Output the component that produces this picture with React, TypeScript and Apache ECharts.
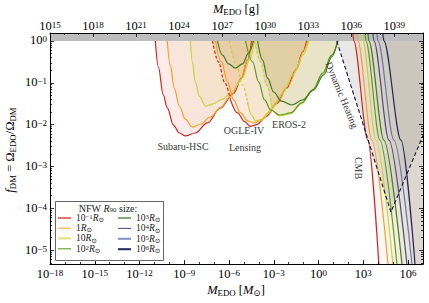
import React, { useEffect, useRef } from 'react';
import * as echarts from 'echarts';

const FONT = "'Liberation Serif','DejaVu Serif',serif";

// ---- axis ranges (log10 units) ----
const xRangeMsun = [-18, 7];
const xRangeGram = [15, 41];
const yRange = [-5.33, 0.19];

// ---- tick values (log10 units) ----
const xMajorTicks = [-18, -15, -12, -9, -6, -3, 0, 3, 6];
const xMinorTicks = [-18, -17, -16, -15, -14, -13, -12, -11, -10, -9, -8, -7, -6, -5, -4, -3, -2, -1, 0, 1, 2, 3, 4, 5, 6, 7];
const gramMajorTicks = [15, 18, 21, 24, 27, 30, 33, 36, 39];
const gramMinorTicks = [15, 16, 17, 18, 19, 20, 21, 22, 23, 24, 25, 26, 27, 28, 29, 30, 31, 32, 33, 34, 35, 36, 37, 38, 39, 40, 41];
const yMajorTicks = [-5, -4, -3, -2, -1, 0];
const minorMultipliers = [2, 3, 4, 5, 6, 7, 8, 9];

// ---- NFW R90 sizes (log10 of R/Rsun) ----
const radiusExp = [-1, 0, 1, 2, 3, 4, 5, 6];
const radiusNames = ['R-1', 'R0', 'R1', 'R2', 'R3', 'R4', 'R5', 'R6'];
const lineColors = ['#d0271d', '#f5a01f', '#c6d23a', '#5b9c1f', '#3f7a25', '#4b4b86', '#7070ae', '#25255e'];
const legendColors = ['#e0766e', '#ffa21a', '#dce57f', '#4f9a1f', '#86a877', '#4e4e84', '#9090c6', '#2b2b66'];
const legendThick = [true, false, true, false, true, false, true, true];

// ---- constraint curves: [log10 M/Msun, log10 f_DM] ----
const subaruR01 = [[-10.94, 0], [-10.74, -0.62], [-10.41, -1.29], [-10.14, -1.6], [-9.73, -2.01], [-9.33, -2.2], [-8.93, -2.27], [-8.26, -2.2], [-7.45, -1.96], [-6.58, -1.6], [-5.7, -1.25], [-5.16, -0.89], [-4.76, -0.46], [-4.49, 0]];
const subaruR1 = [[-10.14, 0], [-9.94, -0.58], [-9.67, -1.13], [-9.33, -1.56], [-8.93, -1.87], [-8.46, -2.06], [-7.92, -1.99], [-7.25, -1.82], [-6.58, -1.6], [-5.9, -1.32], [-5.23, -0.93], [-4.76, -0.46], [-4.42, 0]];
const subaruR10 = [[-8.59, 0], [-8.46, -0.5], [-8.26, -0.98], [-7.99, -1.32], [-7.58, -1.56], [-7.11, -1.51], [-6.44, -1.39], [-5.77, -1.2], [-5.1, -0.89], [-4.63, -0.46], [-4.29, 0]];

const ogleR01Dash = [[-7.11, 0], [-6.71, -0.5], [-6.31, -0.98], [-5.9, -1.41]];
const ogleR01 = [[-5.9, -1.41], [-5.43, -1.72], [-4.96, -1.93], [-4.56, -2.04], [-4.15, -2.0], [-3.48, -1.8], [-2.81, -1.5], [-2.14, -1.13], [-1.53, -0.7], [-1.06, -0.26], [-0.8, 0]];
const ogleR1 = [[-6.91, 0], [-6.51, -0.5], [-6.1, -0.98], [-5.7, -1.41], [-5.23, -1.72], [-4.76, -1.91], [-4.36, -1.96], [-3.89, -1.91], [-3.35, -1.72], [-2.68, -1.41], [-2.01, -1.05], [-1.4, -0.62], [-1.0, -0.22], [-0.73, 0]];
const ogleR10Dash = [[-5.97, 0], [-5.5, -0.58], [-5.1, -1.05], [-4.76, -1.46]];
const ogleR10 = [[-4.76, -1.46], [-4.49, -1.77], [-4.22, -1.91], [-3.75, -1.87], [-3.08, -1.6], [-2.41, -1.25], [-1.67, -0.79], [-1.06, -0.34], [-0.66, 0]];
const ogleR100 = [[-6.78, 0], [-6.44, -0.34], [-6.04, -0.55], [-5.57, -0.65], [-5.1, -0.55], [-4.69, -0.29], [-4.36, 0]];

const erosR10Dash = [[-4.29, 0], [-3.89, -0.5], [-3.48, -1.05], [-3.08, -1.65]];
const erosR10 = [[-3.08, -1.65], [-2.61, -1.79], [-1.87, -1.74], [-1.13, -1.5], [-0.39, -1.18], [0.28, -0.78], [0.88, -0.35], [1.29, 0]];
const erosR100 = [[-4.9, 0], [-4.42, -0.5], [-4.02, -0.98], [-3.62, -1.41], [-3.21, -1.65], [-2.61, -1.77], [-1.87, -1.72], [-1.13, -1.48], [-0.39, -1.17], [0.28, -0.77], [0.88, -0.34], [1.29, 0]];
const erosR1000 = [[-4.09, 0], [-3.75, -0.46], [-3.42, -0.89], [-3.01, -1.22], [-2.48, -1.44], [-1.8, -1.53], [-1.06, -1.41], [-0.33, -1.17], [0.35, -0.81], [0.88, -0.38], [1.29, 0]];

const cmbR01 = [[2.3, 0.19], [2.36, 0], [3.3, -2.37], [4.05, -5.4]];
const cmbR1 = [[2.57, 0.19], [2.63, 0], [3.57, -2.37], [4.67, -5.4]];
const cmbR10 = [[2.91, 0.19], [2.97, 0], [3.84, -2.37], [5.0, -5.4]];
const cmbR100 = [[3.11, 0.19], [3.17, 0], [4.11, -2.37], [5.27, -5.4]];
const cmbR1000 = [[3.31, 0.19], [3.37, 0], [4.38, -2.37], [5.61, -5.4]];
const cmbR1e4 = [[3.64, 0.19], [3.71, 0], [4.72, -2.37], [5.94, -5.4]];
const cmbR1e5 = [[3.91, 0.19], [3.98, 0], [5.05, -2.37], [6.28, -5.4]];
const cmbR1e6 = [[4.3, 0.19], [4.38, 0], [5.52, -2.37], [6.48, -5.4]];
const cmbCurves = [cmbR01, cmbR1, cmbR10, cmbR100, cmbR1000, cmbR1e4, cmbR1e5, cmbR1e6];

const dynamicHeating = [[1.22, 0], [4.85, -4.09], [7.0, -2.26]];
const unphysicalBand = [[-18, 0], [7, 0]];

// ---- helpers ----
const expText = (v: number) => (v < 0 ? '\u2212' + Math.abs(v) : String(v));

function rgba(hex: string, a: number) {
  const n = parseInt(hex.slice(1), 16);
  return `rgba(${(n >> 16) & 255},${(n >> 8) & 255},${n & 255},${a})`;
}

const tickRich = {
  b: { fontFamily: FONT, fontSize: 12.5, lineHeight: 12, verticalAlign: 'bottom', color: '#000' },
  s: { fontFamily: FONT, fontSize: 9, lineHeight: 4, verticalAlign: 'top', color: '#000' },
};
const tickFmt = (v: number) => `{b|10}{s|${expText(Math.round(v))}}`;

function fillSeries(data: number[][], color: string, alpha: number, smooth: number | boolean = 0.35) {
  return {
    type: 'line', data, xAxisIndex: 0, yAxisIndex: 0, symbol: 'none', showSymbol: false,
    smooth, smoothMonotone: 'x', silent: true, clip: true, z: 1,
    lineStyle: { width: 0, opacity: 0 },
    areaStyle: { color: rgba(color, alpha), origin: 'end' },
  };
}
function lineSeries(data: number[][], color: string, dashed = false, name?: string, smooth: number | boolean = 0.35) {
  const s: any = {
    type: 'line', data, xAxisIndex: 0, yAxisIndex: 0, symbol: 'none', showSymbol: false,
    smooth, smoothMonotone: 'x', silent: true, clip: true, z: 3,
    lineStyle: { color, width: 1.2, type: dashed ? [3, 2] : 'solid' },
    itemStyle: { color },
  };
  if (name) s.name = name;
  return s;
}
const joinArm = (a: number[][], b: number[][]) => a.concat(b.slice(1));

function yMinorTicks() {
  const out: number[] = [];
  for (let n = -6; n <= 0; n++) {
    for (const k of minorMultipliers) {
      const v = n + Math.log10(k);
      if (v > yRange[0] && v < yRange[1]) out.push(v);
    }
  }
  return out;
}

function buildOption() {
  const axisBase = {
    type: 'value', z: 10, silent: true, splitLine: { show: false },
    axisLine: { show: true, onZero: false, lineStyle: { color: '#000', width: 1 } },
  };
  const tickStyle = { color: '#000', width: 0.8 };
  const labelBase = { show: true, color: '#000', formatter: tickFmt, rich: tickRich };
  const xAxis = [
    { ...axisBase, position: 'bottom', min: xRangeMsun[0], max: xRangeMsun[1],
      axisTick: { show: true, inside: true, length: 4, customValues: xMajorTicks, lineStyle: tickStyle },
      axisLabel: { ...labelBase, customValues: xMajorTicks, margin: 4 } },
    { ...axisBase, position: 'bottom', min: xRangeMsun[0], max: xRangeMsun[1], axisLine: { show: false, onZero: false },
      axisTick: { show: true, inside: true, length: 2, customValues: xMinorTicks, lineStyle: tickStyle }, axisLabel: { show: false } },
    { ...axisBase, position: 'top', min: xRangeGram[0], max: xRangeGram[1],
      axisTick: { show: true, inside: true, length: 4, customValues: gramMajorTicks, lineStyle: tickStyle },
      axisLabel: { ...labelBase, customValues: gramMajorTicks, margin: 1 } },
    { ...axisBase, position: 'top', min: xRangeGram[0], max: xRangeGram[1], axisLine: { show: false, onZero: false },
      axisTick: { show: true, inside: true, length: 2, customValues: gramMinorTicks, lineStyle: tickStyle }, axisLabel: { show: false } },
  ];
  const minorY = yMinorTicks();
  const yAxis = [
    { ...axisBase, position: 'left', min: yRange[0], max: yRange[1],
      axisTick: { show: true, inside: true, length: 4, customValues: yMajorTicks, lineStyle: tickStyle },
      axisLabel: { ...labelBase, customValues: yMajorTicks, margin: 3 } },
    { ...axisBase, position: 'left', min: yRange[0], max: yRange[1], axisLine: { show: false, onZero: false },
      axisTick: { show: true, inside: true, length: 2, customValues: minorY, lineStyle: tickStyle }, axisLabel: { show: false } },
    { ...axisBase, position: 'right', min: yRange[0], max: yRange[1],
      axisTick: { show: true, inside: true, length: 4, customValues: yMajorTicks, lineStyle: tickStyle }, axisLabel: { show: false } },
    { ...axisBase, position: 'right', min: yRange[0], max: yRange[1], axisLine: { show: false, onZero: false },
      axisTick: { show: true, inside: true, length: 2, customValues: minorY, lineStyle: tickStyle }, axisLabel: { show: false } },
  ];

  const [cR01, cR1, cR10, cR100, cR1000] = lineColors;
  const erosShallow = joinArm(erosR10Dash, erosR10);
  const series: any[] = [];
  // fills
  series.push(fillSeries(subaruR01, cR01, 0.13));
  series.push(fillSeries(subaruR1, cR1, 0.12));
  series.push(fillSeries(subaruR10, cR10, 0.12));
  series.push(fillSeries(joinArm(ogleR01Dash, ogleR01), cR01, 0.1));
  series.push(fillSeries(ogleR1, cR1, 0.12));
  series.push(fillSeries(joinArm(ogleR10Dash, ogleR10), cR10, 0.12));
  series.push(fillSeries(ogleR100, cR100, 0.08));
  series.push(fillSeries(erosShallow, cR01, 0.07));
  series.push(fillSeries(erosShallow, cR1, 0.1));
  series.push(fillSeries(erosShallow, cR10, 0.1));
  series.push(fillSeries(erosR100, cR100, 0.06));
  series.push(fillSeries(erosR1000, cR1000, 0.06));
  cmbCurves.forEach((c, i) => series.push(fillSeries(c.concat([[7.3, -5.4]]), lineColors[i], 0.05, false)));
  series.push({ ...fillSeries(dynamicHeating, '#78695a', 0.22, false) });
  // f > 1 band
  series.push({
    type: 'line', data: unphysicalBand, symbol: 'none', silent: true, z: 2,
    lineStyle: { width: 0, opacity: 0 }, areaStyle: { color: '#bdbdbd', opacity: 1, origin: 'end' },
  });
  // lines
  series.push(lineSeries(subaruR01, cR01));
  series.push(lineSeries(subaruR1, cR1));
  series.push(lineSeries(subaruR10, cR10));
  series.push(lineSeries(ogleR01Dash, cR01, true));
  series.push(lineSeries(ogleR01, cR01));
  series.push(lineSeries(ogleR1, cR1));
  series.push(lineSeries(ogleR10Dash, cR10, true));
  series.push(lineSeries(ogleR10, cR10));
  series.push(lineSeries(ogleR100, cR1000));
  series.push(lineSeries(erosR10Dash, cR10, true));
  series.push(lineSeries(erosR10, cR10));
  series.push(lineSeries(erosR100, cR100));
  series.push(lineSeries(erosR1000, cR1000));
  cmbCurves.forEach((c, i) => series.push(lineSeries(c, lineColors[i], false, radiusNames[i], 0.3)));
  series.push({ ...lineSeries(dynamicHeating, '#1c1c4a', true, undefined, false), lineStyle: { color: '#1c1c4a', width: 1.2, type: [4, 2.5] } });

  const legendRich = {
    b: { fontFamily: FONT, fontSize: 9.5, lineHeight: 10.4, color: '#222' },
    s: { fontFamily: FONT, fontSize: 6.8, lineHeight: 5, verticalAlign: 'top', color: '#222' },
    i: { fontFamily: FONT, fontSize: 9.5, fontStyle: 'italic', lineHeight: 10.4, color: '#222' },
    u: { fontFamily: FONT, fontSize: 6.8, lineHeight: 5, verticalAlign: 'bottom', color: '#222' },
  };
  const legendLabel = (name: string) => {
    const e = radiusExp[radiusNames.indexOf(name)];
    const pre = e === 0 ? '{b|1}' : e === 1 ? '{b|10}' : `{b|10}{s|${expText(e)}}`;
    return `${pre}{i|R}{u|\u2299}`;
  };
  const thick = 'path://M0,0h20v3.2h-20z';
  const thin = 'path://M0,0h20v1.6h-20z';
  const legendItem = (i: number) => ({
    name: radiusNames[i], icon: legendThick[i] ? thick : thin,
    itemStyle: { color: legendColors[i], borderWidth: 0 },
  });
  const legendBase = {
    orient: 'vertical', top: 212.8, padding: 0, itemGap: 0, itemWidth: 13, itemHeight: 10.4,
    selectedMode: false, z: 60, textStyle: { fontFamily: FONT, fontSize: 9.5, color: '#222', rich: legendRich },
    formatter: legendLabel,
  };
  const legend = [
    { ...legendBase, left: 58, data: [0, 1, 2, 3].map(legendItem) },
    { ...legendBase, left: 118, data: [4, 5, 6, 7].map(legendItem) },
  ];

  const titleRich = {
    i: { fontFamily: FONT, fontSize: 12.5, fontStyle: 'italic', lineHeight: 15, fill: '#000', color: '#000' },
    r: { fontFamily: FONT, fontSize: 12.5, lineHeight: 15, fill: '#000', color: '#000' },
    u: { fontFamily: FONT, fontSize: 8.8, lineHeight: 7, verticalAlign: 'bottom', fill: '#000', color: '#000' },
  };
  const smallRich = {
    r: { fontFamily: FONT, fontSize: 10, lineHeight: 11, fill: '#222', color: '#222' },
    i: { fontFamily: FONT, fontSize: 10, fontStyle: 'italic', lineHeight: 11, fill: '#222', color: '#222' },
    u: { fontFamily: FONT, fontSize: 7, lineHeight: 5, verticalAlign: 'bottom', fill: '#222', color: '#222' },
  };
  const ann = (x: number, y: number, text: string, rotation = 0) => ({
    type: 'text', x, y, rotation, z: 55, silent: true,
    style: { text, fontFamily: FONT, fontSize: 10, fill: '#3a3a3a', align: 'center', verticalAlign: 'middle' },
  });
  const graphic = [
    { type: 'rect', z: 50, silent: true, shape: { x: 55.5, y: 201.5, width: 108, height: 59 },
      style: { fill: 'rgba(255,255,255,0.85)', stroke: '#666', lineWidth: 1 } },
    { type: 'text', x: 108, y: 208, z: 55, silent: true,
      style: { text: '{r|NFW }{i|R}{u|90}{r| size:}', rich: smallRich, align: 'center', verticalAlign: 'middle' } },
    { type: 'text', x: 236, y: 290, z: 55, silent: true,
      style: { text: '{i|M}{u|EDO}{r| [}{i|M}{u|\u2299}{r|]}', rich: titleRich, align: 'center', verticalAlign: 'middle' } },
    { type: 'text', x: 236, y: 9, z: 55, silent: true,
      style: { text: '{i|M}{u|EDO}{r| [g]}', rich: titleRich, align: 'center', verticalAlign: 'middle' } },
    { type: 'text', x: 10, y: 150, z: 55, silent: true, rotation: Math.PI / 2,
      style: { text: '{i|f}{u|DM}{r| = \u03a9}{u|EDO}{r|/\u03a9}{u|DM}', rich: titleRich, align: 'center', verticalAlign: 'middle' } },
    ann(183, 146, 'Subaru-HSC'),
    ann(244, 130, 'OGLE-IV'),
    ann(245, 147, 'Lensing'),
    ann(289, 124, 'EROS-2'),
    ann(342, 95, 'Dynamic Heating', -1.18),
    ann(358, 168, 'CMB', -Math.PI / 2),
  ];

  return {
    animation: false,
    backgroundColor: '#fff',
    grid: { left: 50, right: 6, top: 33, bottom: 39, containLabel: false, outerBoundsMode: 'none' },
    xAxis, yAxis, series, legend, graphic,
  };
}

export default function App() {
  const ref = useRef<HTMLDivElement>(null);
  useEffect(() => {
    const chart = echarts.init(ref.current as HTMLDivElement, undefined, { renderer: 'svg', width: 429, height: 303 });
    chart.setOption(buildOption() as any);
    return () => chart.dispose();
  }, []);
  return <div ref={ref} style={{ position: 'fixed', left: 0, top: 0, width: 429, height: 303, background: '#fff' }} />;
}
